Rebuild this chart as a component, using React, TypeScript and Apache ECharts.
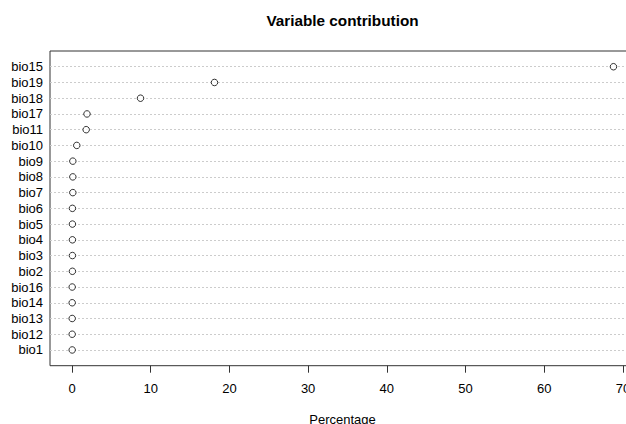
import React, { useEffect, useRef } from "react";
import * as echarts from "echarts";

const variables = [
  "bio15", "bio19", "bio18", "bio17", "bio11", "bio10", "bio9", "bio8", "bio7",
  "bio6", "bio5", "bio4", "bio3", "bio2", "bio16", "bio14", "bio13", "bio12", "bio1",
];
const contribution = [
  68.8, 18.1, 8.7, 1.9, 1.8, 0.6, 0.1, 0.1, 0.1,
  0.05, 0.05, 0.05, 0.05, 0.05, 0.02, 0.02, 0.02, 0.02, 0.02,
];
const xTicks = [0, 10, 20, 30, 40, 50, 60, 70];
const titleText = "Variable contribution";
const xLabel = "Percentage";

export default function App() {
  const ref = useRef<HTMLDivElement>(null);
  useEffect(() => {
    if (!ref.current) return;
    const chart = echarts.init(ref.current, undefined, { renderer: "svg" });
    const n = variables.length;
    const font = "Liberation Sans, Arial, sans-serif";
    chart.setOption({
      animation: false,
      backgroundColor: "#ffffff",
      textStyle: { fontFamily: font },
      grid: {
        left: 50,
        top: 51,
        right: 4.5,
        bottom: 58.3,
        show: true,
        borderColor: "#333333",
        borderWidth: 1,
        backgroundColor: "transparent",
      },
      xAxis: {
        type: "value",
        min: -2.8,
        max: 71.6,
        axisLine: { show: false },
        splitLine: { show: false },
        axisTick: {
          show: true,
          length: 7,
          customValues: xTicks,
          lineStyle: { color: "#333333", width: 1 },
        },
        axisLabel: {
          customValues: xTicks,
          fontSize: 13,
          color: "#000000",
          margin: 16,
          fontFamily: font,
        },
      },
      yAxis: {
        type: "value",
        min: 0,
        max: n + 1,
        interval: 1,
        axisLine: { show: false },
        axisTick: { show: false },
        splitLine: { show: false },
        axisLabel: {
          fontSize: 13,
          color: "#000000",
          margin: 7,
          fontFamily: font,
          formatter: (v: number) => {
            const idx = n - v;
            return idx >= 0 && idx < n ? variables[idx] : "";
          },
        },
      },
      series: [
        {
          type: "scatter",
          data: [],
          z: 1,
          silent: true,
          markLine: {
            silent: true,
            symbol: ["none", "none"],
            label: { show: false },
            lineStyle: { type: [2, 2], color: "#cccccc", width: 1 },
            data: variables.map((_, i) => ({ yAxis: n - i })),
          },
        },
        {
          type: "scatter",
          z: 5,
          symbol: "circle",
          symbolSize: 6.5,
          itemStyle: { color: "#ffffff", borderColor: "#000000", borderWidth: 1 },
          data: contribution.map((v, i) => [v, n - i]),
        },
      ],
      graphic: [
        {
          type: "text",
          x: 342.5,
          y: 20.5,
          style: {
            text: titleText,
            textAlign: "center",
            textVerticalAlign: "middle",
            font: "bold 15.3px Liberation Sans, Arial, sans-serif",
            fill: "#000000",
          },
        },
        {
          type: "text",
          x: 342.5,
          y: 419.5,
          style: {
            text: xLabel,
            textAlign: "center",
            textVerticalAlign: "middle",
            font: "13px Liberation Sans, Arial, sans-serif",
            fill: "#000000",
          },
        },
      ],
    });
    return () => chart.dispose();
  }, []);
  return (
    <div
      ref={ref}
      style={{ position: "fixed", left: 0, top: 0, width: 640, height: 424 }}
    />
  );
}
